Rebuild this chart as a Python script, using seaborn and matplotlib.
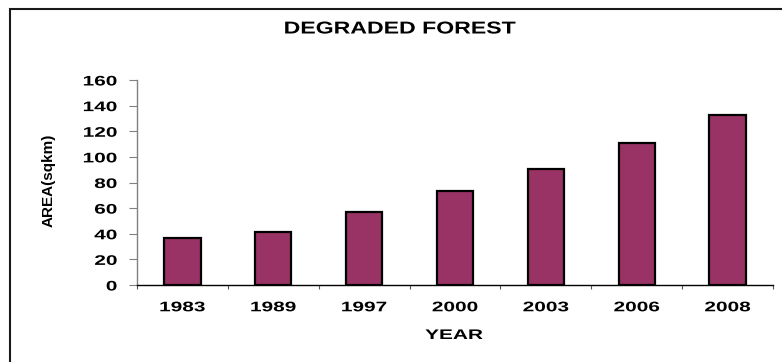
import matplotlib
matplotlib.use("Agg")
import matplotlib.pyplot as plt
import seaborn as sns
import pandas as pd
from matplotlib.patches import Rectangle
from matplotlib.patheffects import AbstractPathEffect
from matplotlib.transforms import Affine2D
from matplotlib.ticker import FixedLocator, MultipleLocator

# Degraded forest area by survey year
years = ["1983", "1989", "1997", "2000", "2003", "2006", "2008"]
area_sqkm = [36.5, 41, 57, 73, 90.5, 110.5, 133]


class HStretch(AbstractPathEffect):
    """Widen rendered glyphs horizontally about a fixed anchor."""

    def __init__(self, sx, anchor="center"):
        super().__init__()
        self.sx = sx
        self.anchor = anchor

    def draw_path(self, renderer, gc, tpath, affine, rgbFace=None):
        ext = tpath.get_extents(affine)
        if self.anchor == "right":
            x0 = ext.x1
        elif self.anchor == "left":
            x0 = ext.x0
        else:
            x0 = 0.5 * (ext.x0 + ext.x1)
        t = affine + Affine2D().translate(-x0, 0).scale(self.sx, 1.0).translate(x0, 0)
        renderer.draw_path(gc, tpath, t, rgbFace)


sns.set_theme(style="white")
plt.rcParams["font.family"] = ["Liberation Sans", "DejaVu Sans"]
plt.rcParams["font.weight"] = "bold"

df = pd.DataFrame({"year": years, "area": area_sqkm})

W, H = 782, 362
fig = plt.figure(figsize=(W / 100, H / 100), dpi=100)
fig.patch.set_facecolor("white")

# plot area in pixel terms
left, right, top, bottom = 137, 773, 80, 285
ax = fig.add_axes([left / W, 1 - bottom / H, (right - left) / W, (bottom - top) / H])

sns.barplot(data=df, x="year", y="area", ax=ax, color="#993366",
            width=0.4, edgecolor="black", linewidth=1.6, saturation=1)

ax.set_xlim(-0.5, len(years) - 0.5)
ax.set_ylim(0, 160)
ax.yaxis.set_major_locator(MultipleLocator(20))

# spines
for s in ("top", "right"):
    ax.spines[s].set_visible(False)
ax.spines["left"].set_color("#808080")
ax.spines["left"].set_linewidth(1.0)
ax.spines["bottom"].set_color("black")
ax.spines["bottom"].set_linewidth(1.0)

# y ticks outward on the left
ax.tick_params(axis="y", which="major", direction="out", length=5.8, width=0.8,
               color="#808080", pad=8.5, labelsize=10, left=True)
# x tick marks sit between categories
ax.xaxis.set_minor_locator(FixedLocator([i - 0.5 for i in range(len(years) + 1)]))
ax.tick_params(axis="x", which="minor", direction="out", length=3, width=0.8,
               color="#555555", bottom=True)
ax.tick_params(axis="x", which="major", length=0, pad=11, labelsize=10)

for lab in ax.get_xticklabels():
    lab.set_fontweight("bold")
    lab.set_color("black")
    lab.set_path_effects([HStretch(1.5, "center")])
for lab in ax.get_yticklabels():
    lab.set_fontweight("bold")
    lab.set_color("black")
    lab.set_path_effects([HStretch(1.5, "right")])

xl = ax.set_xlabel("YEAR", fontsize=10, fontweight="bold", color="black")
xl.set_path_effects([HStretch(1.5, "center")])
ax.set_ylabel("AREA(sqkm)", fontsize=11, fontweight="bold", color="black")
ax.xaxis.set_label_coords((454 - left) / (right - left), -(335 - bottom) / (bottom - top))
ax.yaxis.set_label_coords(-(left - 49) / (right - left), (bottom - 180) / (bottom - top))
ax.yaxis.label.set_va("center")
ax.xaxis.label.set_va("center")

title = fig.text(400 / W, 1 - 29 / H, "DEGRADED FOREST", ha="center", va="center",
                 fontsize=12.4, fontweight="bold", color="black")
title.set_path_effects([HStretch(1.34, "center")])

# chart border (right and bottom edges fall outside the canvas)
fig.patches.append(Rectangle((10 / W, -0.1), 1.2, 1 - 9 / H + 0.1,
                             transform=fig.transFigure, fill=False,
                             edgecolor="#1a1a1a", linewidth=1.5))

fig.savefig("out.png", dpi=100, facecolor="white")
